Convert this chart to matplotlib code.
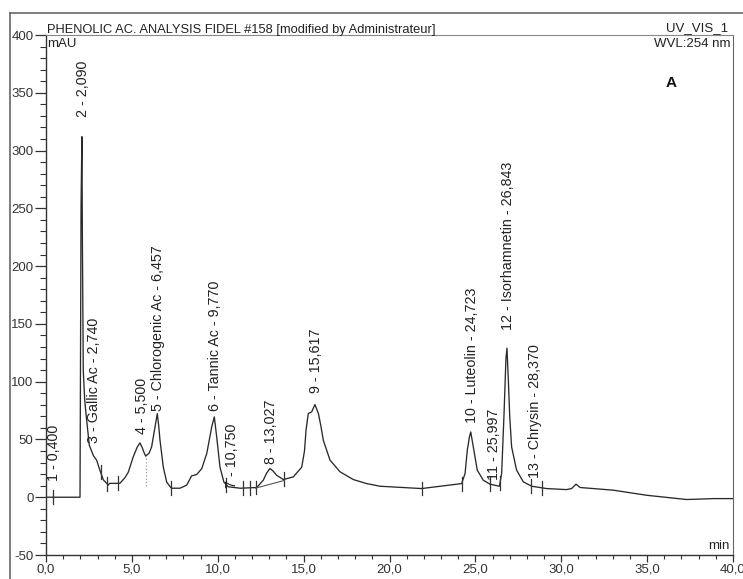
import numpy as np
import matplotlib
matplotlib.use("Agg")
import matplotlib.pyplot as plt
from matplotlib.ticker import MultipleLocator, FuncFormatter
from matplotlib.lines import Line2D

plt.rcParams['font.family'] = ['Liberation Sans', 'DejaVu Sans']

# trace (min, mAU)
temps = [0.0, 1.98, 2.00, 2.04, 2.09, 2.12, 2.17, 2.25, 2.33, 2.52, 2.76, 2.95, 3.10,
         3.34, 3.63, 3.70, 4.30, 4.60, 4.79, 5.08, 5.30, 5.47, 5.60, 5.70, 5.80, 6.00,
         6.15, 6.35, 6.48, 6.56, 6.64, 6.83, 7.03, 7.30, 7.80, 8.19, 8.48, 8.77, 9.07,
         9.36, 9.65, 9.80, 9.94, 10.13, 10.36, 10.62, 11.30, 12.27, 12.65, 12.85, 13.04,
         13.20, 13.43, 13.82, 14.40, 14.89, 15.05, 15.14, 15.27, 15.47, 15.66, 15.86,
         16.00, 16.15, 16.54, 17.12, 17.89, 18.67, 19.45, 21.87, 24.20, 24.40, 24.53,
         24.65, 24.73, 24.88, 25.11, 25.46, 25.85, 26.40, 26.53, 26.67, 26.78, 26.84,
         26.92, 27.00, 27.11, 27.40, 27.79, 28.28, 29.15, 30.30, 30.60, 30.86, 31.10,
         33.03, 34.97, 37.30, 38.85, 40.0]
signal = [0.0, 0.0, 80, 250, 312, 220, 110, 85, 72, 45, 36, 32, 25,
          15, 10.5, 12, 12, 17, 21.6, 35, 43, 47, 43, 39, 35.6, 38,
          43.6, 61, 72.4, 62, 49, 26, 13, 7.8, 7.8, 10.4, 18.5, 19.6, 24.8,
          37.8, 61, 69.5, 52, 26, 13, 9, 7.8, 8.4, 14.7, 21, 24.8,
          23, 19, 15.3, 17.6, 26, 40, 58, 72.4, 73.9, 80.2, 72.4,
          62, 49, 32, 22, 15.3, 11.8, 9.5, 7.5, 11.8, 20.5, 40.7,
          52, 56.5, 43.5, 23.4, 14.7, 11.3, 9.5, 20.5, 72.7, 120, 129,
          101, 70, 43.5, 23.4, 13.3, 9.5, 7.5, 6.6, 7.5, 11.3, 8.4,
          6.1, 1.7, -2.0, -1.2, -1.2]

# integration marks along the trace
bornes = [0.40, 3.18, 3.57, 4.20, 7.30, 10.50, 11.45, 11.90, 12.20, 13.85,
          21.90, 24.20, 25.85, 26.43, 28.25, 28.90]
borne_grise = 5.80

# peaks
pics_temps = [0.400, 2.090, 2.740, 5.500, 6.457, 9.770, 10.750, 13.027, 15.617,
              24.723, 25.997, 26.843, 28.370]
pics_noms = ["", "", "Gallic Ac", "", "Chlorogenic Ac", "Tannic Ac", "", "", "",
             "Luteolin", "", "Isorhamnetin", "Chrysin"]
# bottom of each label (mAU)
pics_base = [14, 329, 47, 55, 75, 75, 8, 29, 90, 64, 15, 145, 17]

fig = plt.figure(figsize=(7.43, 5.79), dpi=100)
W, H = 743, 579
ax = fig.add_axes([46 / W, 24 / H, 687 / W, 520 / H])

ax.plot(temps, signal, color='#2a2a2a', lw=0.95)

# marks on the trace
for t in bornes:
    v = np.interp(t, temps, signal)
    ax.plot([t, t], [v - 6, v + 6], color='#333333', lw=0.9)
v = np.interp(borne_grise, temps, signal)
ax.plot([borne_grise, borne_grise], [10, v], color='#999999', lw=0.9, ls=':')
# baseline under peak 8
ax.plot([12.20, 13.85], [np.interp(12.20, temps, signal) - 0.5, np.interp(13.85, temps, signal) - 1],
        color='#555555', lw=0.8)

for i, (t, nom, b) in enumerate(zip(pics_temps, pics_noms, pics_base), start=1):
    ts = f"{t:.3f}".replace('.', ',')
    txt = f"{i} - {nom} - {ts}" if nom else f"{i} - {ts}"
    ax.text(t + 0.08, b, txt, rotation=90, ha='center', va='bottom',
            fontsize=10.3, color='#222222')

ax.set_xlim(0, 40)
ax.set_ylim(-50, 400)
ax.xaxis.set_major_locator(MultipleLocator(5))
ax.xaxis.set_minor_locator(MultipleLocator(1))
ax.yaxis.set_major_locator(MultipleLocator(50))
ax.yaxis.set_minor_locator(MultipleLocator(10))
ax.xaxis.set_major_formatter(FuncFormatter(lambda v, p: f"{v:.1f}".replace('.', ',')))
ax.yaxis.set_major_formatter(FuncFormatter(lambda v, p: f"{int(round(v))}"))
ax.tick_params(axis='y', which='major', direction='out', length=8, width=0.9, pad=1,
               labelsize=9.5, colors='#333333')
ax.tick_params(axis='y', which='minor', direction='out', length=4.5, width=0.8, colors='#333333')
ax.tick_params(axis='x', which='major', direction='out', length=5, width=0.9, pad=1,
               labelsize=9.5, colors='#333333')
ax.tick_params(axis='x', which='minor', direction='out', length=3, width=0.8, colors='#333333')

for s in ['left', 'bottom']:
    ax.spines[s].set_color('#333333')
    ax.spines[s].set_linewidth(1.0)
ax.spines['right'].set_color('#666666')
ax.spines['top'].set_color('#888888')

ax.text(1 / 687, 1 + 2 / 520, "PHENOLIC AC. ANALYSIS FIDEL #158 [modified by Administrateur]",
        transform=ax.transAxes, ha='left', va='baseline', fontsize=9.3, color='#222222')
ax.text(1 - 5 / 687, 1 + 4 / 520, "UV_VIS_1", transform=ax.transAxes,
        ha='right', va='baseline', fontsize=9.5, color='#222222')
ax.text(1 - 2 / 687, 1 - 3 / 520, "WVL:254 nm", transform=ax.transAxes,
        ha='right', va='top', fontsize=9.5, color='#222222')
ax.text(1 / 687, 1 - 3 / 520, "mAU", transform=ax.transAxes,
        ha='left', va='top', fontsize=9.5, color='#222222')
ax.text(0.9098, 0.9077, "A", transform=ax.transAxes, ha='center', va='center',
        fontsize=11, fontweight='bold', color='#111111')
ax.text(1 - 3 / 687, 3 / 520, "min", transform=ax.transAxes,
        ha='right', va='bottom', fontsize=9.5, color='#222222')

# outer frame of the report
fig.add_artist(Line2D([10 / W, 1.0], [1 - 13 / H, 1 - 13 / H], color='#666666', lw=1.2))
fig.add_artist(Line2D([10 / W, 10 / W], [0.0, 1 - 13 / H], color='#666666', lw=1.2))

fig.savefig("out.png", dpi=100)
